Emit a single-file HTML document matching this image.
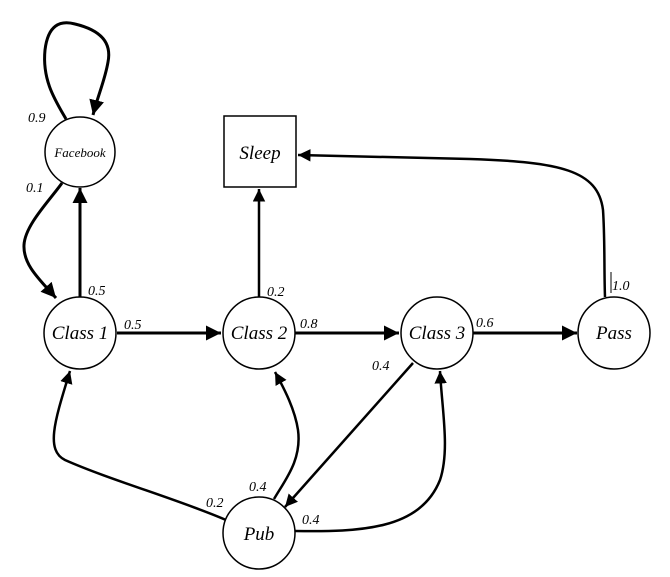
<!DOCTYPE html>
<html><head><meta charset="utf-8"><style>
html,body{margin:0;padding:0;background:#fff;}
svg{display:block;}
text{font-family:"Liberation Serif",serif;font-style:italic;fill:#000;}
</style></head><body>
<svg width="670" height="577" viewBox="0 0 670 577" xmlns="http://www.w3.org/2000/svg">
<defs>
<marker id="a" viewBox="0 0 10 10" refX="10" refY="5" markerWidth="5" markerHeight="5" markerUnits="strokeWidth" orient="auto">
<path d="M0,0 L10,5 L0,10 z" fill="#000"/></marker>
</defs>
<g fill="none" stroke="#000" stroke-width="3">
<!-- self loop -->
<path d="M66,119 C55,100 42,80 45,50 C48,25 60,20 75,24 C100,30 112,42 108,62 C105,80 98,95 93,115" marker-end="url(#a)"/>
<!-- facebook -> class1 -->
<path d="M62,183 C50,200 25,225 24,245 C23,265 40,280 56,298" marker-end="url(#a)"/>
<!-- class1 -> facebook -->
<path d="M80,297 L80,188" marker-end="url(#a)"/>
<!-- class1 -> class2 -->
<path d="M117,333 L221,333" marker-end="url(#a)"/>
<!-- class2 -> sleep -->
<path d="M259,297 L259,189" stroke-width="2.5" marker-end="url(#a)"/>
<!-- class2 -> class3 -->
<path d="M295,333 L399,333" marker-end="url(#a)"/>
<!-- class3 -> pass -->
<path d="M473,333 L577,333" marker-end="url(#a)"/>
<!-- pass -> sleep -->
<path d="M605,297 C604,270 605,240 603,210 C598,170 560,162 470,159 L298,155" stroke-width="2.5" marker-end="url(#a)"/>
<!-- class3 -> pub -->
<path d="M413,363 L285,507" stroke-width="2.5" marker-end="url(#a)"/>
<!-- pub -> class1 -->
<path d="M226,520 C180,500 110,480 65,460 C45,450 55,420 70,371" stroke-width="2.5" marker-end="url(#a)"/>
<!-- pub -> class2 -->
<path d="M274,499 C285,480 302,460 298,430 C295,410 285,390 275,372" stroke-width="2.5" marker-end="url(#a)"/>
<!-- pub -> class3 -->
<path d="M295,531 C360,532 420,530 440,480 C450,450 442,410 440,371" stroke-width="2.5" marker-end="url(#a)"/>
</g>
<path d="M611,272 L611,293" stroke="#000" stroke-width="1"/>
<g fill="#fff" stroke="#000" stroke-width="1.5">
<circle cx="80" cy="152" r="35"/>
<circle cx="80" cy="333" r="36"/>
<circle cx="259" cy="333" r="36"/>
<circle cx="437" cy="333" r="36"/>
<circle cx="614" cy="333" r="36"/>
<circle cx="259" cy="533" r="36"/>
<rect x="224" y="116" width="72" height="71"/>
</g>
<g font-size="19" text-anchor="middle">
<text x="80" y="157" font-size="13">Facebook</text>
<text x="80" y="339">Class 1</text>
<text x="259" y="339">Class 2</text>
<text x="437" y="339">Class 3</text>
<text x="614" y="339">Pass</text>
<text x="259" y="540">Pub</text>
<text x="260" y="159">Sleep</text>
</g>
<g font-size="14">
<text x="28" y="122">0.9</text>
<text x="26" y="192">0.1</text>
<text x="88" y="295">0.5</text>
<text x="124" y="329">0.5</text>
<text x="267" y="296">0.2</text>
<text x="300" y="328">0.8</text>
<text x="476" y="327">0.6</text>
<text x="612" y="290">1.0</text>
<text x="372" y="370">0.4</text>
<text x="206" y="507">0.2</text>
<text x="249" y="491">0.4</text>
<text x="302" y="524">0.4</text>
</g>
</svg>
</body></html>
